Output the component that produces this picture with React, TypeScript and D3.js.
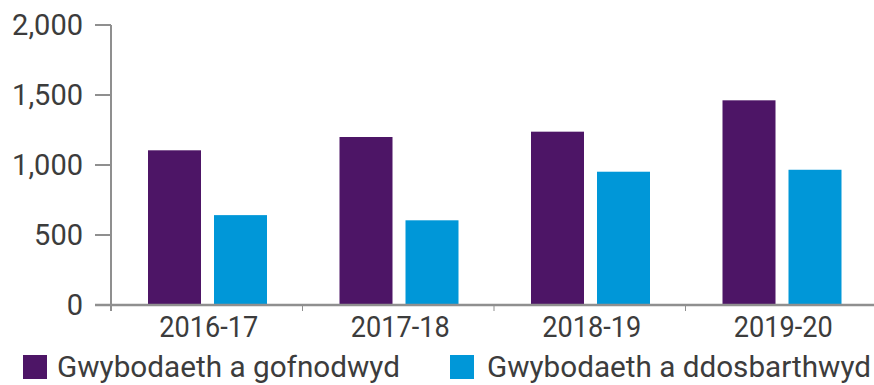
import React from "react";
import * as d3 from "d3";

const categories = ["2016-17", "2017-18", "2018-19", "2019-20"];
const seriesNames = ["Gwybodaeth a gofnodwyd", "Gwybodaeth a ddosbarthwyd"];
const recorded = [1105, 1200, 1238, 1462];
const disseminated = [642, 605, 952, 966];
const yTicks = [0, 500, 1000, 1500, 2000];
const colors = ["#4d1566", "#0097d8"];

export default function App() {
  const W = 874, H = 385;
  const axisX = 111;
  const y = d3.scaleLinear().domain([0, 2000]).range([305, 25]);
  const x0 = d3.scaleBand<string>().domain(categories).range([axisX, axisX + 4 * 191.5]).padding(0);
  const x1 = d3.scaleBand<string>().domain(seriesNames).range([37, 156]).paddingInner(13 / 66).paddingOuter(0);
  const values = [recorded, disseminated];
  const fmt = d3.format(",");
  const font = "Roboto, 'Open Sans', sans-serif";
  const textColor = "#3c3c3c";
  const axisColor = "#8f8f8f";

  const legendItems = [
    { x: 23, textX: 57, len: 343 },
    { x: 450, textX: 487, len: 384 },
  ];

  return (
    <svg width={W} height={H} style={{ position: "absolute", left: 0, top: 0, background: "#fff" }}>
      {/* bars */}
      {categories.map((c, i) => (
        <g key={c} transform={`translate(${x0(c)},0)`}>
          {seriesNames.map((s, j) => (
            <rect
              key={s}
              x={x1(s)}
              y={y(values[j][i])}
              width={x1.bandwidth()}
              height={y(0) - y(values[j][i])}
              fill={colors[j]}
            />
          ))}
        </g>
      ))}
      {/* y axis */}
      <line x1={axisX} x2={axisX} y1={y(2000)} y2={y(0) + 6} stroke={axisColor} strokeWidth={2} />
      {yTicks.map((t) => (
        <g key={t}>
          <line x1={95} x2={axisX} y1={y(t)} y2={y(t)} stroke={axisColor} strokeWidth={2} />
          <text
            x={83}
            y={y(t)}
            dy="0.36em"
            textAnchor="end"
            fontFamily={font}
            fontSize={29}
            fill={textColor}
          >
            {fmt(t)}
          </text>
        </g>
      ))}
      {/* x axis */}
      <line x1={95} x2={W} y1={y(0)} y2={y(0)} stroke={axisColor} strokeWidth={2.5} />
      {categories.slice(1).map((c) => (
        <line key={c} x1={x0(c)} x2={x0(c)} y1={y(0)} y2={y(0) + 6} stroke={axisColor} strokeWidth={1} />
      ))}
      {categories.map((c) => (
        <text
          key={c}
          x={(x0(c) as number) + x0.bandwidth() / 2 + 2}
          y={337}
          textAnchor="middle"
          fontFamily={font}
          fontSize={29}
          textLength={99}
          lengthAdjust="spacingAndGlyphs"
          fill={textColor}
        >
          {c}
        </text>
      ))}
      {/* legend */}
      {seriesNames.map((s, j) => (
        <g key={s}>
          <rect x={legendItems[j].x} y={355} width={24} height={24} fill={colors[j]} />
          <text
            x={legendItems[j].textX}
            y={377}
            fontFamily={font}
            fontSize={29}
            textLength={legendItems[j].len}
            lengthAdjust="spacingAndGlyphs"
            fill={textColor}
          >
            {s}
          </text>
        </g>
      ))}
    </svg>
  );
}
